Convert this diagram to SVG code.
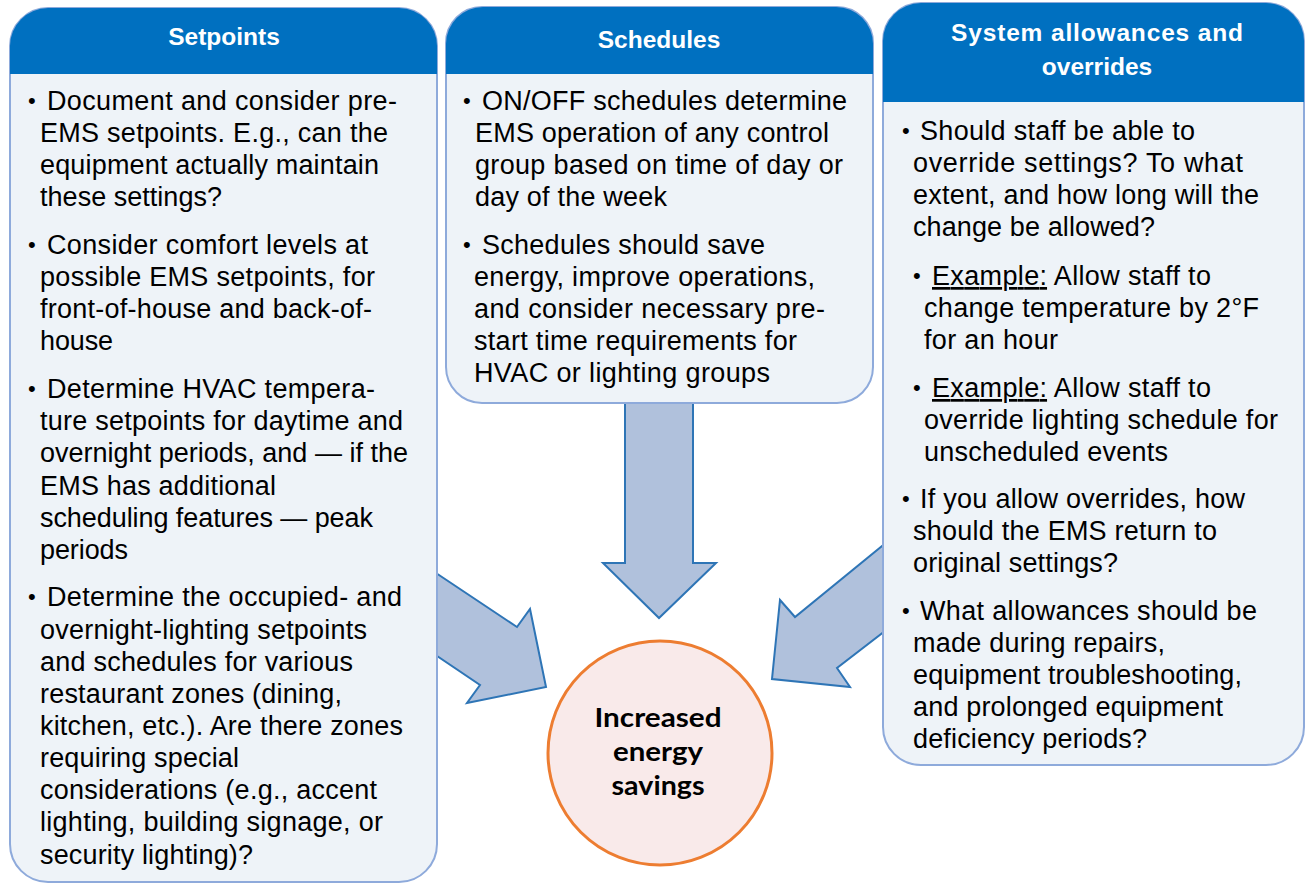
<svg xmlns="http://www.w3.org/2000/svg" width="1305" height="884" viewBox="0 0 1305 884">
  <style>
    .body { fill: #eef3f8; stroke: #8eaadb; stroke-width: 2; }
    .head { fill: #0070c0; }
    .title { font-family: "Liberation Sans", Arial, sans-serif; font-weight: bold; font-size: 24.5px; fill: #ffffff; text-anchor: middle; }
    .txt { font-family: "Liberation Sans", Arial, sans-serif; font-size: 27px; fill: #000000; }
    .dot { font-size: 22px; }
    .u { text-decoration: underline; }
    .arrow { fill: #b0c1dc; stroke: #2e75b6; stroke-width: 2; stroke-linejoin: miter; }
    .goal { fill: #f9eaea; stroke: #ed7d31; stroke-width: 3; }
    .goaltxt { font-family: Lato, "Open Sans", sans-serif; font-weight: bold; font-size: 26px; fill: #000000; text-anchor: middle; }
  </style>

  <!-- block arrows feeding the goal circle (drawn first so the boxes sit on top) -->
  <g id="connectors">
    <polygon class="arrow" points="400,549 517,627 530,609 546,687 467,703 480,685 400,631"/>
    <polygon class="arrow" points="625,395 625,563 603,563 659,618 716,563 693,563 693,395"/>
    <polygon class="arrow" points="920,515 795,617 780,600 772,679 850,687 837,668 920,604"/>
  </g>

  <!-- Setpoints -->
  <g id="setpoints">
    <rect class="body" x="10" y="8" width="427" height="874" rx="38" ry="38"/>
    <path class="head" d="M10,74 V46 A38,38 0 0 1 48,8 H399 A38,38 0 0 1 437,46 V74 Z"/>
    <text class="title" x="224" y="45">Setpoints</text>
    <g class="txt">
      <text class="dot" x="28" y="108">•</text>
      <text x="47" y="110" textLength="350" lengthAdjust="spacing">Document and consider pre-</text>
      <text x="40" y="142" textLength="348" lengthAdjust="spacing">EMS setpoints. E.g., can the</text>
      <text x="40" y="174" textLength="339" lengthAdjust="spacing">equipment actually maintain</text>
      <text x="40" y="206" textLength="182" lengthAdjust="spacing">these settings?</text>

      <text class="dot" x="28" y="252">•</text>
      <text x="47" y="254" textLength="321" lengthAdjust="spacing">Consider comfort levels at</text>
      <text x="40" y="286" textLength="335" lengthAdjust="spacing">possible EMS setpoints, for</text>
      <text x="40" y="318" textLength="332" lengthAdjust="spacing">front-of-house and back-of-</text>
      <text x="40" y="350" textLength="73" lengthAdjust="spacing">house</text>

      <text class="dot" x="28" y="396">•</text>
      <text x="47" y="398" textLength="328" lengthAdjust="spacing">Determine HVAC tempera-</text>
      <text x="40" y="430" textLength="363" lengthAdjust="spacing">ture setpoints for daytime and</text>
      <text x="40" y="462" textLength="368" lengthAdjust="spacing">overnight periods, and — if the</text>
      <text x="40" y="495" textLength="236" lengthAdjust="spacing">EMS has additional</text>
      <text x="40" y="527" textLength="333" lengthAdjust="spacing">scheduling features — peak</text>
      <text x="40" y="559" textLength="88" lengthAdjust="spacing">periods</text>

      <text class="dot" x="28" y="604">•</text>
      <text x="47" y="606" textLength="355" lengthAdjust="spacing">Determine the occupied- and</text>
      <text x="40" y="639" textLength="327" lengthAdjust="spacing">overnight-lighting setpoints</text>
      <text x="40" y="671" textLength="313" lengthAdjust="spacing">and schedules for various</text>
      <text x="40" y="703" textLength="302" lengthAdjust="spacing">restaurant zones (dining,</text>
      <text x="40" y="735" textLength="363" lengthAdjust="spacing">kitchen, etc.). Are there zones</text>
      <text x="40" y="767" textLength="199" lengthAdjust="spacing">requiring special</text>
      <text x="40" y="799" textLength="337" lengthAdjust="spacing">considerations (e.g., accent</text>
      <text x="40" y="831" textLength="343" lengthAdjust="spacing">lighting, building signage, or</text>
      <text x="40" y="864" textLength="213" lengthAdjust="spacing">security lighting)?</text>
    </g>
  </g>

  <!-- Schedules -->
  <g id="schedules">
    <rect class="body" x="446" y="7" width="427" height="396" rx="36" ry="36"/>
    <path class="head" d="M446,74 V44 A37,37 0 0 1 483,7 H836 A37,37 0 0 1 873,44 V74 Z"/>
    <text class="title" x="659" y="48">Schedules</text>
    <g class="txt">
      <text class="dot" x="463" y="108">•</text>
      <text x="482" y="110" textLength="365" lengthAdjust="spacing">ON/OFF schedules determine</text>
      <text x="475" y="142" textLength="354" lengthAdjust="spacing">EMS operation of any control</text>
      <text x="475" y="174" textLength="368" lengthAdjust="spacing">group based on time of day or</text>
      <text x="475" y="206" textLength="192" lengthAdjust="spacing">day of the week</text>

      <text class="dot" x="463" y="252">•</text>
      <text x="482" y="254" textLength="283" lengthAdjust="spacing">Schedules should save</text>
      <text x="474" y="286" textLength="341" lengthAdjust="spacing">energy, improve operations,</text>
      <text x="474" y="318" textLength="351" lengthAdjust="spacing">and consider necessary pre-</text>
      <text x="474" y="350" textLength="323" lengthAdjust="spacing">start time requirements for</text>
      <text x="474" y="382" textLength="296" lengthAdjust="spacing">HVAC or lighting groups</text>
    </g>
  </g>

  <!-- System allowances and overrides -->
  <g id="allowances">
    <rect class="body" x="883" y="3" width="421" height="762" rx="38" ry="38"/>
    <path class="head" d="M883,102 V41 A38,38 0 0 1 921,3 H1266 A38,38 0 0 1 1304,41 V102 Z"/>
    <text class="title" x="1097" y="41" textLength="292" lengthAdjust="spacing">System allowances and</text>
    <text class="title" x="1097" y="75">overrides</text>
    <g class="txt">
      <text class="dot" x="902" y="138">•</text>
      <text x="920" y="140" textLength="275" lengthAdjust="spacing">Should staff be able to</text>
      <text x="913" y="172" textLength="330" lengthAdjust="spacing">override settings?  To what</text>
      <text x="913" y="204" textLength="346" lengthAdjust="spacing">extent, and how long will the</text>
      <text x="913" y="236" textLength="242" lengthAdjust="spacing">change be allowed?</text>

      <text class="dot" x="913" y="283">•</text>
      <text x="932" y="285" textLength="279" lengthAdjust="spacing"><tspan class="u">Example:</tspan>  Allow staff to</text>
      <text x="924" y="317" textLength="335" lengthAdjust="spacing">change temperature by 2°F</text>
      <text x="924" y="349" textLength="134" lengthAdjust="spacing">for an hour</text>

      <text class="dot" x="913" y="395">•</text>
      <text x="932" y="397" textLength="279" lengthAdjust="spacing"><tspan class="u">Example:</tspan>  Allow staff to</text>
      <text x="924" y="429" textLength="354" lengthAdjust="spacing">override lighting schedule for</text>
      <text x="924" y="461" textLength="244" lengthAdjust="spacing">unscheduled events</text>

      <text class="dot" x="902" y="506">•</text>
      <text x="920" y="508" textLength="325" lengthAdjust="spacing">If you allow overrides, how</text>
      <text x="913" y="540" textLength="304" lengthAdjust="spacing">should the EMS return to</text>
      <text x="913" y="572" textLength="205" lengthAdjust="spacing">original settings?</text>

      <text class="dot" x="902" y="618">•</text>
      <text x="920" y="620" textLength="337" lengthAdjust="spacing">What allowances should be</text>
      <text x="913" y="652" textLength="252" lengthAdjust="spacing">made during repairs,</text>
      <text x="913" y="684" textLength="329" lengthAdjust="spacing">equipment troubleshooting,</text>
      <text x="913" y="716" textLength="310" lengthAdjust="spacing">and prolonged equipment</text>
      <text x="913" y="748" textLength="234" lengthAdjust="spacing">deficiency periods?</text>
    </g>
  </g>

  <!-- Goal -->
  <g id="goal">
    <circle class="goal" cx="660" cy="753" r="112"/>
    <text class="goaltxt" x="658" y="727" textLength="127" lengthAdjust="spacingAndGlyphs">Increased</text>
    <text class="goaltxt" x="658" y="761" textLength="90" lengthAdjust="spacingAndGlyphs">energy</text>
    <text class="goaltxt" x="658" y="795" textLength="93" lengthAdjust="spacingAndGlyphs">savings</text>
  </g>
</svg>
